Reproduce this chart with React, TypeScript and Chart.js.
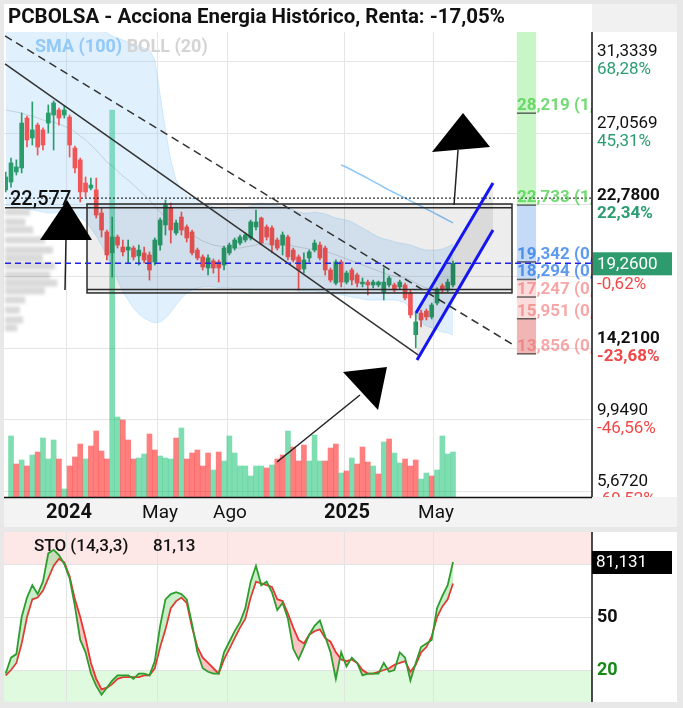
import React, { useEffect, useRef } from "react";
import { Chart, registerables } from "chart.js";
Chart.register(...registerables);

// ---------------- DATA (weekly candles, index 0..84) ----------------
const opens = [23.64,24.11,24.71,24.95,27.93,26.74,27.51,27.22,27.63,28.11,28.41,28.11,27.99,26.14,25.43,24.05,23.75,23.64,22.26,21.13,19.88,20.83,20.23,20.05,20.17,19.70,19.88,19.76,19.34,20.35,21.55,22.56,21.07,22.02,21.43,21.13,20.05,19.64,18.98,19.40,19.34,19.16,19.88,20.17,20.47,20.65,20.77,21.43,21.96,21.43,21.37,20.65,20.35,20.83,20.05,19.64,18.92,19.58,20.05,20.35,20.17,18.86,18.08,19.34,18.14,18.86,18.56,18.03,18.14,17.97,17.97,17.55,17.97,17.97,17.85,17.97,17.49,15.00,16.29,16.41,16.06,16.89,17.91,17.67,17.97];
const highs = [24.71,25.54,25.43,28.23,28.05,28.89,27.63,27.34,28.71,28.95,28.53,28.65,28.11,26.26,25.54,24.41,24.35,24.35,22.56,21.25,22.02,20.95,20.65,20.65,20.29,20.35,20.23,19.94,20.77,21.96,23.04,22.86,21.84,22.32,21.55,21.25,20.17,19.76,19.76,19.52,19.46,20.29,20.47,20.77,20.95,21.07,21.84,22.44,22.02,21.55,21.49,20.77,21.13,20.95,20.17,19.76,19.88,20.05,20.65,20.53,20.29,18.98,19.46,19.46,18.80,18.98,18.68,18.38,18.26,18.26,18.20,18.98,18.50,18.08,18.26,18.08,17.67,16.29,16.47,16.53,16.89,17.79,18.03,18.32,19.40];
const lows = [23.52,23.81,24.53,24.65,26.20,26.32,25.72,26.02,27.04,26.02,27.51,27.93,25.60,24.65,22.92,23.22,23.64,21.96,20.83,19.46,18.44,20.17,19.70,19.28,19.46,19.16,19.28,18.26,19.16,20.05,20.95,20.47,20.95,20.95,20.53,19.76,19.46,18.86,18.56,18.68,18.14,18.86,19.76,20.05,20.35,20.53,20.65,21.25,20.35,20.65,19.88,20.05,19.76,19.46,19.34,17.67,18.68,19.34,19.94,19.46,18.56,18.14,17.97,17.85,18.03,17.97,17.85,17.85,17.37,17.79,17.85,17.07,17.85,17.55,17.73,17.07,16.00,14.21,15.46,15.88,15.94,16.77,17.49,17.55,17.85];
const closes = [24.41,25.25,25.01,27.63,26.62,27.22,26.20,26.32,28.23,28.83,27.93,28.41,26.32,24.95,23.52,23.52,23.93,22.14,21.25,19.76,20.83,20.35,19.94,20.23,19.64,20.05,19.46,18.86,20.65,21.84,22.74,21.25,21.67,21.25,20.77,19.88,19.58,19.04,19.58,18.98,18.98,20.17,20.35,20.65,20.83,20.95,21.73,21.73,20.47,20.83,20.35,20.17,20.95,19.64,19.46,18.86,19.46,19.94,20.47,19.58,18.86,18.26,19.34,18.14,18.68,18.26,18.08,18.14,17.97,18.14,18.14,18.14,18.38,17.67,18.14,17.19,16.18,15.76,15.88,16.06,16.77,17.67,17.67,18.14,19.26];
// volume in thousands of shares (null: not shown)
const volumesK = [null,61,33,37,31,42,45,59,38,57,38,8,31,40,53,38,51,66,46,38,387,80,77,57,38,39,43,63,47,41,39,38,59,69,38,44,47,31,44,27,45,36,61,44,31,31,21,31,31,29,32,38,42,66,50,36,52,36,62,36,36,49,53,24,26,39,33,50,35,31,23,55,58,44,34,38,31,37,18,24,21,27,61,43,45];
const volumeUp = [1,1,0,1,0,1,0,1,1,1,0,1,0,0,0,1,0,0,0,0,1,1,0,0,0,1,1,0,0,1,1,1,0,1,0,0,0,0,0,1,0,1,1,1,1,1,1,1,1,0,1,0,0,1,0,0,0,1,1,1,0,0,0,1,0,1,0,0,0,1,0,1,0,1,1,0,0,0,1,1,0,1,1,1,1];
const bollUpper = [34.68,34.62,34.56,34.50,34.38,34.32,34.26,34.20,34.14,34.14,34.08,34.02,33.90,33.78,33.66,33.54,33.42,33.30,33.18,33.00,32.83,32.71,32.59,32.47,32.35,32.23,32.11,31.99,31.39,29.30,27.22,25.42,24.23,23.64,23.34,23.16,23.04,22.86,22.74,22.62,22.56,22.50,22.44,22.44,22.50,22.56,22.68,22.80,22.86,22.80,22.74,22.68,22.62,22.56,22.44,22.32,22.26,22.26,22.32,22.26,22.20,22.08,21.96,21.90,21.84,21.73,21.55,21.37,21.19,21.01,20.83,20.71,20.65,20.53,20.47,20.41,20.35,20.23,20.11,20.05,20.05,20.05,20.11,20.23,20.41];
const bollMid = [28.41,28.35,28.29,28.23,28.11,28.05,27.93,27.81,27.75,27.69,27.57,27.45,27.28,27.10,26.86,26.62,26.32,26.02,25.66,25.31,25.07,24.77,24.47,24.23,23.93,23.64,23.34,23.04,22.68,22.32,22.02,21.73,21.49,21.31,21.13,20.95,20.77,20.59,20.47,20.35,20.29,20.23,20.17,20.17,20.17,20.23,20.29,20.35,20.41,20.41,20.41,20.35,20.35,20.35,20.29,20.23,20.17,20.11,20.11,20.05,19.99,19.87,19.76,19.64,19.52,19.40,19.28,19.16,19.04,18.92,18.80,18.68,18.56,18.50,18.44,18.38,18.26,18.08,17.91,17.79,17.67,17.61,17.61,17.67,17.73];
const bollLower = [22.74,22.68,22.62,22.56,22.50,22.44,22.38,22.32,22.26,22.26,22.32,22.38,22.38,22.26,22.02,21.73,21.37,20.89,20.35,19.70,18.98,18.26,17.55,17.07,16.59,16.23,15.99,15.82,15.70,15.76,15.99,16.35,16.77,17.19,17.49,17.67,17.79,17.85,17.85,17.85,17.79,17.79,17.79,17.73,17.73,17.73,17.73,17.67,17.67,17.67,17.67,17.67,17.67,17.67,17.67,17.61,17.61,17.61,17.61,17.55,17.55,17.49,17.43,17.37,17.31,17.25,17.19,17.13,17.07,17.07,17.07,17.07,17.07,17.07,17.01,16.89,16.59,16.11,15.76,15.52,15.40,15.28,15.16,15.10,14.98];
const smaStart = 63;
const sma100 = [25.13,24.99,24.83,24.66,24.50,24.33,24.15,23.98,23.80,23.63,23.47,23.31,23.15,22.99,22.83,22.67,22.50,22.34,22.17,22.01,21.84,21.67];
const stoK = [18,27,29,50,61,68,63,70,86,88,85,80,72,56,37,30,18,11,6,10,14,17,17,17,15,18,18,17,25,45,60,63,64,63,60,46,30,21,19,18,18,30,36,42,47,55,70,79,68,70,64,54,58,49,32,26,33,40,45,48,39,30,15,30,22,27,24,17,18,18,18,24,19,20,30,27,14,24,33,35,37,55,62,68,81.13];
const stoD = [17,20,24,35,50,60,61,65,72,79,83,81,73,60,50,38,24,15,9,10,12,15,16,16,16,16,17,17,21,33,43,55,59,61,58,44,33,27,24,21,18,26,32,38,44,49,61,70,69,68,67,60,59,52,44,37,35,40,42,43,38,36,30,26,25,26,24,20,18,18,19,20,21,23,24,25,19,23,30,33,39,50,56,60,69];

// axes / labels
const titleText = "PCBOLSA - Acciona Energia Histórico, Renta: -17,05%";
const xTickLabels = ["2024", "May", "Ago", "2025", "May"];
const xTickBold = [true, false, false, true, false];
const xTickIdx = [11.32, 28.41, 41.56, 63.53, 80.24];
const yGridValues = [31.3339, 27.0569, 22.78, 18.503, 14.226, 9.949, 5.672];
const yLabelValues = [31.3339, 27.0569, 22.78, 14.21, 9.949, 5.672];
const yLabelText = ["31,3339", "27,0569", "22,7800", "14,2100", "9,9490", "5,6720"];
const yLabelPct = ["68,28%", "45,31%", "22,34%", "-23,68%", "-46,56%", "-69,52%"];
const yLabelBold = [false, false, true, true, false, false];
const lastPrice = 19.26;
const lastPriceText = "19,2600";
const lastPriceChange = "-0,62%";
const fibPrices = [28.219, 22.733, 19.342, 18.294, 17.247, 15.951, 13.856];
const fibRatios = ["1,618", "1,000", "0,618", "0,500", "0,382", "0,236", "0,000"];
const fibColumn = [96.0, 99.6];
const stoLast = 81.131;
const stoLevels = [80, 50, 20];

// drawings (index, price)
const trendSolid = [[-0.13, 31.16], [77.43, 13.79]];
const trendDashed = [[-0.13, 32.83], [95.08, 14.44]];
const boxCorners = [[15.27, 22.80], [95.08, 17.49]];
const boxInnerLow = 17.70;
const levelSolid = 22.577;
const levelDotted = 23.15;
const channelUpper = [[77.05, 16.29], [91.51, 24.05]];
const channelLower = [[77.24, 13.49], [91.51, 21.25]];
const arrowLeftHead = [[11.51, 23.04], [6.44, 20.65], [16.21, 20.65]];
const arrowLeftStem = [[11.32, 20.65], [11.14, 17.67]];
const arrowTopHead = [[85.88, 28.23], [80.05, 25.90], [90.95, 26.20]];
const arrowTopStem = [[84.94, 26.02], [84.19, 22.74]];
const arrowLowHead = [[63.34, 12.77], [71.6, 13.07], [69.92, 10.51]];
const arrowLowStem = [[50.95, 7.40], [66.53, 11.40]];
const levelLabel = "22,577";
const profilePrices = [22.32, 21.73, 21.25, 20.65, 20.05, 19.58, 19.10, 18.56, 18.08, 17.61, 17.07, 16.47, 15.88, 15.40];
const profileWidths = [4.7, 3.8, 5.3, 7.5, 9.0, 7.1, 9.4, 8.5, 9.8, 7.5, 3.8, 2.8, 3.4, 2.3];

// ---------------- STYLE ----------------
const FONT = "Roboto, 'Noto Sans', Arial, sans-serif";
const C_UP = "#2a9d6c";
const C_DN = "#f25555";
const X_MIN = -0.13, X_MAX = 110.1;

function seg(ctx: any, a: number[], b: number[]) {
  ctx.beginPath(); ctx.moveTo(a[0], a[1]); ctx.lineTo(b[0], b[1]); ctx.stroke();
}

const mainDecor = {
  id: "mainDecor",
  beforeDraw(chart: any) {
    const { ctx, chartArea: ca, scales } = chart;
    const xs = scales.x, ys = scales.y;
    const W = chart.width, H = chart.height;
    ctx.save();
    ctx.fillStyle = "#e8e8e8"; ctx.fillRect(0, 0, W, H);
    ctx.fillStyle = "#ffffff"; ctx.fillRect(4, 4, ca.right - 4, ca.top - 4);
    ctx.fillStyle = "#f1f1f1"; ctx.fillRect(ca.right, 4, W - 6 - ca.right, ca.top - 4);
    ctx.fillStyle = "#ffffff"; ctx.fillRect(4, ca.top, W - 10, ca.bottom - ca.top);
    ctx.fillStyle = "#f3f3f3"; ctx.fillRect(4, ca.bottom, W - 10, H - 3 - ca.bottom);
    ctx.strokeStyle = "#e5e5e5"; ctx.lineWidth = 1;
    for (const v of yGridValues) { const py = Math.round(ys.getPixelForValue(v)) + 0.5; seg(ctx, [4, py], [ca.right, py]); }
    for (const t of xTickIdx) { const px = Math.round(xs.getPixelForValue(t)) + 0.5; seg(ctx, [px, ca.top], [px, ca.bottom]); }
    // fib column
    const fx0 = xs.getPixelForValue(fibColumn[0]), fx1 = xs.getPixelForValue(fibColumn[1]);
    const zones: any[] = [
      [ca.top, ys.getPixelForValue(fibPrices[1]), "#c9f6c6"],
      [ys.getPixelForValue(fibPrices[1]), ys.getPixelForValue(fibPrices[3]), "#c4daf6"],
      [ys.getPixelForValue(fibPrices[3]), ys.getPixelForValue(fibPrices[5]), "#fadcdc"],
      [ys.getPixelForValue(fibPrices[5]), ys.getPixelForValue(fibPrices[6]), "#f0b6b6"],
    ];
    for (const z of zones) { ctx.fillStyle = z[2]; ctx.fillRect(fx0, z[0], fx1 - fx0, z[1] - z[0]); }
    // volume profile
    ctx.filter = "blur(1.5px)";
    ctx.fillStyle = "rgba(0,0,0,0.15)";
    const x0 = xs.getPixelForValue(X_MIN);
    for (let k = 0; k < profilePrices.length; k++) {
      const py = ys.getPixelForValue(profilePrices[k]);
      const w = xs.getPixelForValue(X_MIN + profileWidths[k]) - x0;
      ctx.fillRect(x0, py - 3.5, w, 7);
    }
    ctx.filter = "none";
    ctx.restore();
  },
  afterDatasetsDraw(chart: any) {
    const { ctx, chartArea: ca, scales } = chart;
    const xs = scales.x, ys = scales.y;
    const W = chart.width;
    const P = (pt: number[]) => [xs.getPixelForValue(pt[0]), ys.getPixelForValue(pt[1])];
    ctx.save();
    ctx.beginPath(); ctx.rect(ca.left - 1, ca.top, ca.right - ca.left + 1, ca.bottom - ca.top); ctx.clip();
    // box
    const b0 = P(boxCorners[0]), b1 = P(boxCorners[1]);
    ctx.fillStyle = "rgba(0,0,0,0.07)";
    ctx.fillRect(b0[0], b0[1], b1[0] - b0[0], b1[1] - b0[1]);
    ctx.strokeStyle = "#2a2a2a"; ctx.lineWidth = 1.5;
    ctx.strokeRect(b0[0], b0[1], b1[0] - b0[0], b1[1] - b0[1]);
    const yIn = ys.getPixelForValue(boxInnerLow);
    seg(ctx, [b0[0], yIn], [b1[0], yIn]);
    const ySol = ys.getPixelForValue(levelSolid);
    seg(ctx, [ca.left, ySol], [b1[0], ySol]);
    // dotted level
    ctx.setLineDash([2, 2]); ctx.lineWidth = 1.2; ctx.strokeStyle = "#333";
    const yDot = ys.getPixelForValue(levelDotted);
    seg(ctx, [ca.left, yDot], [ca.right, yDot]);
    // trendlines
    ctx.setLineDash([8, 5]); ctx.lineWidth = 1.5;
    seg(ctx, P(trendDashed[0]), P(trendDashed[1]));
    ctx.setLineDash([]);
    seg(ctx, P(trendSolid[0]), P(trendSolid[1]));
    // fib labels & markers
    ctx.strokeStyle = "rgba(50,50,50,0.75)"; ctx.lineWidth = 1.5;
    const fx0 = xs.getPixelForValue(fibColumn[0]), fx1 = xs.getPixelForValue(fibColumn[1]);
    ctx.font = `bold 17px ${FONT}`; ctx.textBaseline = "alphabetic"; ctx.textAlign = "left";
    fibPrices.forEach((p, k) => {
      const py = ys.getPixelForValue(p);
      seg(ctx, [fx0, py], [fx1, py]);
      ctx.fillStyle = k < 2 ? "rgba(70,205,70,0.75)" : k < 4 ? "rgba(30,115,230,0.72)" : "rgba(240,95,95,0.55)";
      ctx.fillText(`${p.toFixed(3).replace(".", ",")} (${fibRatios[k]})`, fx0, py - 3);
    });
    // channel
    const cu0 = P(channelUpper[0]), cu1 = P(channelUpper[1]), cl0 = P(channelLower[0]), cl1 = P(channelLower[1]);
    ctx.fillStyle = "rgba(0,0,0,0.08)";
    ctx.beginPath(); ctx.moveTo(cu0[0], cu0[1]); ctx.lineTo(cu1[0], cu1[1]); ctx.lineTo(cl1[0], cl1[1]); ctx.lineTo(cl0[0], cl0[1]); ctx.closePath(); ctx.fill();
    ctx.strokeStyle = "#1515f0"; ctx.lineWidth = 3;
    seg(ctx, cu0, cu1); seg(ctx, cl0, cl1);
    // arrows
    ctx.strokeStyle = "#222"; ctx.lineWidth = 1.5; ctx.fillStyle = "#000";
    for (const [head, stem] of [[arrowLeftHead, arrowLeftStem], [arrowTopHead, arrowTopStem], [arrowLowHead, arrowLowStem]] as any) {
      seg(ctx, P(stem[0]), P(stem[1]));
      const h = head.map(P);
      ctx.beginPath(); ctx.moveTo(h[0][0], h[0][1]); ctx.lineTo(h[1][0], h[1][1]); ctx.lineTo(h[2][0], h[2][1]); ctx.closePath(); ctx.fill();
    }
    // current price line
    ctx.strokeStyle = "#2222e8"; ctx.lineWidth = 1.5; ctx.setLineDash([6, 4]);
    const yLast = ys.getPixelForValue(lastPrice);
    seg(ctx, [ca.left, yLast], [ca.right, yLast]);
    ctx.setLineDash([]);
    // level label
    ctx.font = `500 20px ${FONT}`; ctx.fillStyle = "#111"; ctx.textBaseline = "alphabetic";
    ctx.fillText(levelLabel, xs.getPixelForValue(X_MIN) + 5, ySol - 3);
    // legend
    ctx.font = `bold 18px ${FONT}`; ctx.textBaseline = "middle";
    ctx.fillStyle = "#93c9f6"; ctx.fillText("SMA (100)", 35, ca.top + 15);
    const wS = ctx.measureText("SMA (100) ").width;
    ctx.fillStyle = "#d4d4d4"; ctx.fillText("BOLL (20)", 35 + wS, ca.top + 15);
    ctx.restore();

    // axis frame
    ctx.save();
    ctx.strokeStyle = "#111"; ctx.lineWidth = 1.5;
    seg(ctx, [ca.right, ca.top], [ca.right, ca.bottom]);
    seg(ctx, [4, ca.bottom + 0.5], [ca.right, ca.bottom + 0.5]);
    // right labels
    ctx.beginPath(); ctx.rect(ca.right + 1, ca.top, W - ca.right, ca.bottom - ca.top); ctx.clip();
    ctx.textBaseline = "middle"; ctx.textAlign = "left";
    yLabelValues.forEach((v, k) => {
      const py = ys.getPixelForValue(v);
      const neg = yLabelPct[k].startsWith("-");
      ctx.font = `${yLabelBold[k] ? "bold " : ""}17px ${FONT}`;
      ctx.fillStyle = "#111"; ctx.fillText(yLabelText[k], ca.right + 5, py - 9);
      ctx.fillStyle = neg ? "#f04848" : "#2a9d70"; ctx.fillText(yLabelPct[k], ca.right + 5, py + 9);
    });
    const yl = ys.getPixelForValue(lastPrice);
    ctx.fillStyle = "#2d9b6d"; ctx.fillRect(ca.right, yl - 11, 80, 23);
    ctx.font = `17px ${FONT}`; ctx.fillStyle = "#fff"; ctx.fillText(lastPriceText, ca.right + 5, yl + 1);
    ctx.fillStyle = "#f04848"; ctx.fillText(lastPriceChange, ca.right + 5, yl + 21);
    ctx.restore();

    // x labels
    ctx.save();
    ctx.textAlign = "center"; ctx.textBaseline = "middle"; ctx.fillStyle = "#111";
    xTickLabels.forEach((t, k) => {
      ctx.font = `${xTickBold[k] ? "bold 20px" : "19px"} ${FONT}`;
      ctx.fillText(t, xs.getPixelForValue(xTickIdx[k]) + 3, ca.bottom + 16);
    });
    // title
    let fs = 18;
    ctx.font = `bold ${fs}px ${FONT}`;
    const tw = ctx.measureText(titleText).width;
    fs = Math.max(15, Math.min(21, fs * 497 / tw));
    ctx.font = `bold ${fs}px ${FONT}`;
    ctx.textAlign = "left"; ctx.fillStyle = "#111";
    ctx.fillText(titleText, 8, 18);
    ctx.restore();
  },
};

const stoDecor = {
  id: "stoDecor",
  beforeDraw(chart: any) {
    const { ctx, chartArea: ca, scales } = chart;
    const xs = scales.x, ys = scales.y;
    const W = chart.width, H = chart.height;
    ctx.save();
    ctx.fillStyle = "#e8e8e8"; ctx.fillRect(0, 0, W, H);
    ctx.fillStyle = "#ffffff"; ctx.fillRect(4, ca.top, W - 10, ca.bottom - ca.top);
    const y80 = ys.getPixelForValue(stoLevels[0]), y20 = ys.getPixelForValue(stoLevels[2]);
    ctx.fillStyle = "#fde7e7"; ctx.fillRect(4, ca.top, ca.right - 4, y80 - ca.top);
    ctx.fillStyle = "#dffadf"; ctx.fillRect(4, y20, ca.right - 4, ca.bottom - y20);
    ctx.strokeStyle = "#e3e3e3"; ctx.lineWidth = 1;
    for (const v of stoLevels) { const py = Math.round(ys.getPixelForValue(v)) + 0.5; seg(ctx, [4, py], [ca.right, py]); }
    for (const t of xTickIdx) { const px = Math.round(xs.getPixelForValue(t)) + 0.5; seg(ctx, [px, ca.top], [px, ca.bottom]); }
    ctx.restore();
  },
  afterDatasetsDraw(chart: any) {
    const { ctx, chartArea: ca, scales } = chart;
    const ys = scales.y;
    ctx.save();
    ctx.strokeStyle = "#111"; ctx.lineWidth = 1.5;
    seg(ctx, [ca.right, ca.top], [ca.right, ca.bottom]);
    ctx.textBaseline = "middle"; ctx.textAlign = "left";
    ctx.font = `500 17px ${FONT}`; ctx.fillStyle = "#111";
    ctx.fillText("STO (14,3,3)", 34, ca.top + 15);
    ctx.fillText(stoK[stoK.length - 1].toFixed(2).replace(".", ","), 153, ca.top + 15);
    const yl = ys.getPixelForValue(stoLast);
    ctx.fillStyle = "#000"; ctx.fillRect(ca.right, yl - 11, 80, 23);
    ctx.fillStyle = "#fff"; ctx.font = `17px ${FONT}`;
    ctx.fillText(stoLast.toFixed(3).replace(".", ","), ca.right + 4, yl + 1);
    ctx.font = `bold 18px ${FONT}`;
    ctx.fillStyle = "#111"; ctx.fillText("50", ca.right + 5, ys.getPixelForValue(50));
    ctx.fillStyle = "#168a16"; ctx.fillText("20", ca.right + 5, ys.getPixelForValue(20));
    ctx.restore();
  },
};

function mainConfig(): any {
  const idx = opens.map((_, i) => i);
  const upC = idx.map((i) => (closes[i] >= opens[i] ? C_UP : C_DN));
  const volData: any[] = [];
  const volCol: string[] = [];
  volumesK.forEach((v, i) => {
    if (v !== null) { volData.push({ x: i, y: v }); volCol.push(volumeUp[i] ? "rgba(0,190,100,0.5)" : "rgba(255,0,0,0.5)"); }
  });
  const line = (arr: number[], start = 0) => arr.map((v, k) => ({ x: k + start, y: v }));
  return {
    type: "bar",
    data: {
      datasets: [
        { type: "bar", data: volData, yAxisID: "yv", backgroundColor: volCol, barThickness: 5, grouped: false, order: 10 },
        { type: "line", data: line(bollUpper), borderColor: "rgba(144,202,249,0.35)", borderWidth: 1, pointRadius: 0, fill: false, order: 8 },
        { type: "line", data: line(bollLower), borderColor: "rgba(144,202,249,0.35)", borderWidth: 1, pointRadius: 0, fill: "-1", backgroundColor: "rgba(144,202,249,0.28)", order: 8 },
        { type: "line", data: line(bollMid), borderColor: "rgba(0,0,0,0.13)", borderWidth: 1, pointRadius: 0, fill: false, order: 7 },
        { type: "line", data: line(sma100, smaStart), borderColor: "rgba(100,180,245,0.75)", borderWidth: 1.5, pointRadius: 0, fill: false, order: 6 },
        { type: "bar", data: idx.map((i) => ({ x: i, y: [lows[i], highs[i]] })), backgroundColor: upC, barThickness: 1, grouped: false, order: 2 },
        { type: "bar", data: idx.map((i) => ({ x: i, y: [opens[i], closes[i]] })), backgroundColor: upC, barThickness: 4, minBarLength: 1, grouped: false, order: 1 },
      ],
    },
    options: {
      responsive: false,
      animation: false,
      devicePixelRatio: 1,
      events: [],
      layout: { padding: { left: 5, right: 91, top: 32, bottom: 33 } },
      plugins: { legend: { display: false }, tooltip: { enabled: false }, title: { display: false } },
      scales: {
        x: { type: "linear", min: X_MIN, max: X_MAX, offset: false, display: false },
        y: { type: "linear", min: 5.313, max: 33.064, display: false },
        yv: { type: "linear", min: 0, max: 465, display: false },
      },
    },
    plugins: [mainDecor],
  };
}

function stoConfig(): any {
  const line = (arr: number[]) => arr.map((v, k) => ({ x: k, y: v }));
  return {
    type: "line",
    data: {
      datasets: [
        { data: line(stoK), borderColor: "#2e9d2e", borderWidth: 1.8, pointRadius: 0, tension: 0,
          fill: { target: 1, above: "rgba(76,200,80,0.3)", below: "rgba(240,60,60,0.3)" } },
        { data: line(stoD), borderColor: "#f03030", borderWidth: 1.8, pointRadius: 0, tension: 0, fill: false },
      ],
    },
    options: {
      responsive: false,
      animation: false,
      devicePixelRatio: 1,
      events: [],
      layout: { padding: { left: 5, right: 91, top: 2, bottom: 6 } },
      plugins: { legend: { display: false }, tooltip: { enabled: false } },
      scales: {
        x: { type: "linear", min: X_MIN, max: X_MAX, display: false },
        y: { type: "linear", min: 1.9, max: 98.1, display: false },
      },
    },
    plugins: [stoDecor],
  };
}

export default function App() {
  const mainRef = useRef<HTMLCanvasElement>(null);
  const stoRef = useRef<HTMLCanvasElement>(null);
  useEffect(() => {
    const c1 = new Chart(mainRef.current as HTMLCanvasElement, mainConfig());
    const c2 = new Chart(stoRef.current as HTMLCanvasElement, stoConfig());
    return () => { c1.destroy(); c2.destroy(); };
  }, []);
  return (
    <div style={{ position: "fixed", left: 0, top: 0, width: 683, height: 708, background: "#e8e8e8" }}>
      <canvas ref={mainRef} width={683} height={530} style={{ position: "absolute", left: 0, top: 0, width: 683, height: 530 }} />
      <canvas ref={stoRef} width={683} height={178} style={{ position: "absolute", left: 0, top: 530, width: 683, height: 178 }} />
    </div>
  );
}
